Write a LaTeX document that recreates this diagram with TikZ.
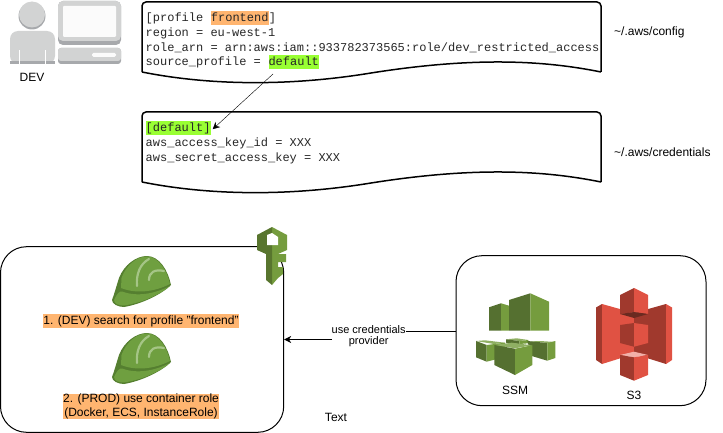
\documentclass[tikz,border=0pt]{standalone}
\usepackage{fontspec}
\usetikzlibrary{positioning, arrows.meta}
\setmainfont{Liberation Sans}
\newfontfamily\codefont{Liberation Mono}

\definecolor{hlorange}{HTML}{FFB570}
\definecolor{hlgreen}{HTML}{99FF33}
\definecolor{devlight}{HTML}{D2D3D3}
\definecolor{devdark}{HTML}{A7A9AC}
\definecolor{awslight}{HTML}{759C3E}
\definecolor{awsdark}{HTML}{557030}
\definecolor{awstop}{HTML}{8FAF63}
\definecolor{hatbody}{HTML}{6F9F40}
\definecolor{hatdark}{HTML}{557F30}
\definecolor{hatstripe}{HTML}{A5C586}
\definecolor{bucketlight}{HTML}{E05243}
\definecolor{bucketdark}{HTML}{A0392D}
\definecolor{bucketpink}{HTML}{F2B0A9}
\definecolor{bucketshade}{HTML}{6B2A20}

\tikzset{
  label text/.style = {font=\fontsize{12}{14}\selectfont, align=center},
  code text/.style = {font=\codefont\fontsize{12}{14}\selectfont, text=black!85, inner sep=0pt, text height=10.5pt, text depth=3.5pt},
  frame box/.style = {draw=black, line width=1pt, rounded corners=26pt},
  doc sheet/.pic = {
    \draw [line width=1.5pt, rounded corners=4pt] (0,70) -- (0,0) -- (459,0) -- (459,70);
    \draw [line width=1.5pt] (459,70) .. controls (400,58) and (330,55) .. (229,71) .. controls (150,84) and (70,84) .. (0,70);
  },
  hard hat/.pic = {
    \fill [hatdark] (0,44) .. controls (3,36) and (5,28) .. (7,22) .. controls (12,9) and (24,0) .. (35,0) .. controls (47,0) and (56,14) .. (59,29) .. controls (50,38) and (30,48) .. (12,51) .. controls (6,51) and (0,48) .. (0,44) -- cycle;
    \fill [hatbody] (9.5,22) .. controls (14,9) and (25,.5) .. (35,.5) .. controls (46,.5) and (55,14) .. (58,28) .. controls (42,36) and (24,38) .. (9,32) -- cycle;
    \fill [hatbody] (2,44) .. controls (5,38) and (7,35) .. (10,35.5) .. controls (25,41) and (42,38) .. (58,30) .. controls (46,40) and (28,47) .. (12,49.5) .. controls (7,49.5) and (2,48) .. (2,44) -- cycle;
    \draw [hatstripe, line width=2.2pt, line cap=round] (25,30) .. controls (24,18) and (28,8) .. (37,3);
    \draw [hatstripe, line width=2.2pt, line cap=round] (37,24) .. controls (37,16) and (43,13) .. (52,15);
  }
}

\begin{document}
\begin{tikzpicture}[x=1pt, y=-1pt, >={Stealth[length=7pt, width=7pt]}]

    \useasboundingbox (0,0) rectangle (723,433);

    \fill [devdark] (32,16) circle [radius=13.5];
    \fill [devlight] (32,14.5) circle [radius=13];
    \fill [devlight, rounded corners=8pt] (10,64) -- (10,31) -- (55,31) -- (55,64) -- cycle;
    \fill [devdark] (10,61) rectangle (55,64);
    \draw [white] (19.5,50) -- (19.5,64);
    \draw [white] (45.5,50) -- (45.5,64);
    \fill [devdark, rounded corners=5pt] (58,1) rectangle (121,45);
    \fill [devlight, rounded corners=5pt] (58,1) rectangle (121,41);
    \fill [white!92!devlight, rounded corners=1pt] (63,6) rectangle (116,37);
    \fill [devdark, rounded corners=3pt] (58,48) rectangle (121,64);
    \fill [devlight, rounded corners=3pt] (58,48) rectangle (121,61);
    \fill [white!92!devlight, rounded corners=1.5pt] (92,53) rectangle (116,57);
    \node [label text] (devlabel) at (32,77.5) {DEV};

    \pic at (142,2) {doc sheet};
    \pic at (142,112) {doc sheet};

    \node [code text, anchor=base west] (profileline) at (145.5,22) {[profile~\null};
    \node [code text, fill=hlorange, base right=0pt of profileline] (frontendword) {frontend};
    \node [code text, base right=0pt of frontendword] (profileend) {]};
    \node [code text, anchor=base west] (regionline) at (145.5,36.7) {region = eu-west-1};
    \node [code text, anchor=base west] (roleline) at (145.5,51.7) {role\_arn = arn:aws:iam::933782373565:role/dev\_restricted\_access};
    \node [code text, anchor=base west] (sourceline) at (145.5,65.7) {source\_profile =~\null};
    \node [code text, fill=hlgreen, base right=0pt of sourceline] (sourcedefault) {default};

    \node [code text, fill=hlgreen, anchor=base west] (credsdefault) at (145.5,131.7) {[default]};
    \node [code text, anchor=base west] (keyidline) at (145.5,146.7) {aws\_access\_key\_id = XXX};
    \node [code text, anchor=base west] (secretline) at (145.5,161.7) {aws\_secret\_access\_key = XXX};

    \coordinate (defaultstart) at (273,74);
    \draw [->] (defaultstart) -- ([xshift=2pt, yshift=-1pt]credsdefault.east);

    \node [label text, anchor=west, inner sep=0pt] (configlabel) at (614,32) {\textasciitilde/.aws/config};
    \node [label text, anchor=west, inner sep=0pt] (credslabel) at (614,152) {\textasciitilde/.aws/credentials};

    \node [frame box, minimum width=283.2pt, minimum height=185.6pt] (rolebox) at (142.1,339.5) {};
    \node [frame box, minimum width=250pt, minimum height=150pt] (storebox) at (581,330.7) {};

    \pic at (112,256) {hard hat};
    \pic at (112,333) {hard hat};
    \node [label text, fill=hlorange, inner sep=0pt, minimum height=14pt] (devstep) at (141,321) {1. (DEV) search for profile "frontend"};
    \node [label text, fill=hlorange, inner sep=0pt] (prodstep) at (141,406.5) {2. (PROD) use container role\\(Docker, ECS, InstanceRole)};

    \fill [awslight] (272,227) -- (287,235) -- (287,250) -- (278,254) -- (286,254) -- (286,262) -- (278,262) -- (278,267) -- (283,267) -- (283,274) -- (278,278) -- (272,285) -- (272,227) -- cycle;
    \fill [awslight!75!black] (272,227) -- (257,235) -- (257,250) -- (266,254) -- (266,280) -- (272,285) -- cycle;
    \fill [white] (267,235) -- (272,233) -- (278,237) -- (278,245) -- (267,245) -- cycle;

    \node [font=\fontsize{11}{11}\selectfont, align=center, inner sep=0pt] (credslink) at (368.7,336.5) {use credentials\\provider};
    \draw (storebox.west) -- (credslink.east |- storebox.west);
    \draw [->] (credslink.west |- rolebox.east) -- (rolebox.east);

    \fill [awsdark] (489,307.3) -- (501,303.3) -- (501,330.7) -- (489,330.7) -- cycle;
    \fill [awslight] (501,303.3) -- (509,305.7) -- (509,330.7) -- (501,330.7) -- cycle;
    \fill [awsdark] (509,300) -- (530.3,293.3) -- (530.3,330.7) -- (509,330.7) -- cycle;
    \fill [awslight] (530.3,293.3) -- (549,301.7) -- (549,330.7) -- (530.3,330.7) -- cycle;

    \fill [awstop] (506,339.3) -- (516.7,338.3) -- (528.3,340) -- (519.3,341) -- cycle;
    \fill [awsdark] (506,339.3) -- (519.3,341) -- (519.3,344) -- (506,342.7) -- cycle;
    \fill [awslight] (519.3,341) -- (528.3,340) -- (528.3,343.3) -- (519.3,344) -- cycle;
    \fill [awstop] (476,341) -- (485,340.3) -- (505,342.7) -- (494,344) -- cycle;
    \fill [awsdark] (476,341) -- (486.7,345) -- (486.7,361.7) -- (476,357.3) -- cycle;
    \fill [awslight] (486.7,345) -- (505,342.7) -- (505,357) -- (486.7,361.7) -- cycle;
    \fill [awstop] (527.3,341) -- (540,341) -- (555.3,342) -- (547.3,343) -- cycle;
    \fill [awsdark] (527.3,341) -- (547.3,343) -- (547.3,360.7) -- (531.7,356) -- cycle;
    \fill [awslight] (547.3,343) -- (555.3,341) -- (555.3,358) -- (547.3,360.7) -- cycle;
    \fill [awstop] (494.3,345) -- (511.7,342.7) -- (532.3,345.3) -- (515,348.3) -- cycle;
    \fill [awsdark] (494.3,345) -- (515,348.7) -- (515,375) -- (494.3,365) -- cycle;
    \fill [awslight] (515,348.7) -- (532.3,345.3) -- (532.3,365) -- (515,375) -- cycle;
    \node [label text] (ssmlabel) at (515,390) {SSM};

    \fill [bucketdark] (596,307.5) -- (602,304) -- (602,364) -- (596,360) -- cycle;
    \fill [bucketlight] (602,304) -- (634,313) -- (634,354) -- (602,364) -- cycle;
    \fill [bucketdark] (634,313) -- (666,304) -- (666,364) -- (634,354) -- cycle;
    \fill [bucketlight] (666,304) -- (672,307.5) -- (672,360) -- (666,364) -- cycle;
    \fill [bucketdark] (620,295) -- (634,288) -- (634,312) -- (620,314) -- cycle;
    \fill [bucketlight] (634,288) -- (648,295) -- (648,314) -- (634,312) -- cycle;
    \fill [bucketshade] (620,314) -- (634,312) -- (648,314) -- (634,318) -- cycle;
    \fill [bucketdark] (620,325) -- (634,323) -- (634,346.7) -- (620,343) -- cycle;
    \fill [bucketlight] (634,323) -- (648,325) -- (648,343) -- (634,346.7) -- cycle;
    \fill [bucketpink] (620,355) -- (634,351.7) -- (648,355) -- (634,357.3) -- cycle;
    \fill [bucketdark] (620,355) -- (634,357.3) -- (634,380.7) -- (620,375) -- cycle;
    \fill [bucketlight] (634,357.3) -- (648,355) -- (648,375) -- (634,380.7) -- cycle;
    \node [label text] (s3label) at (634,395) {S3};

    \node [label text] (textlabel) at (336,417.7) {Text};

    \end{tikzpicture}
\end{document}
